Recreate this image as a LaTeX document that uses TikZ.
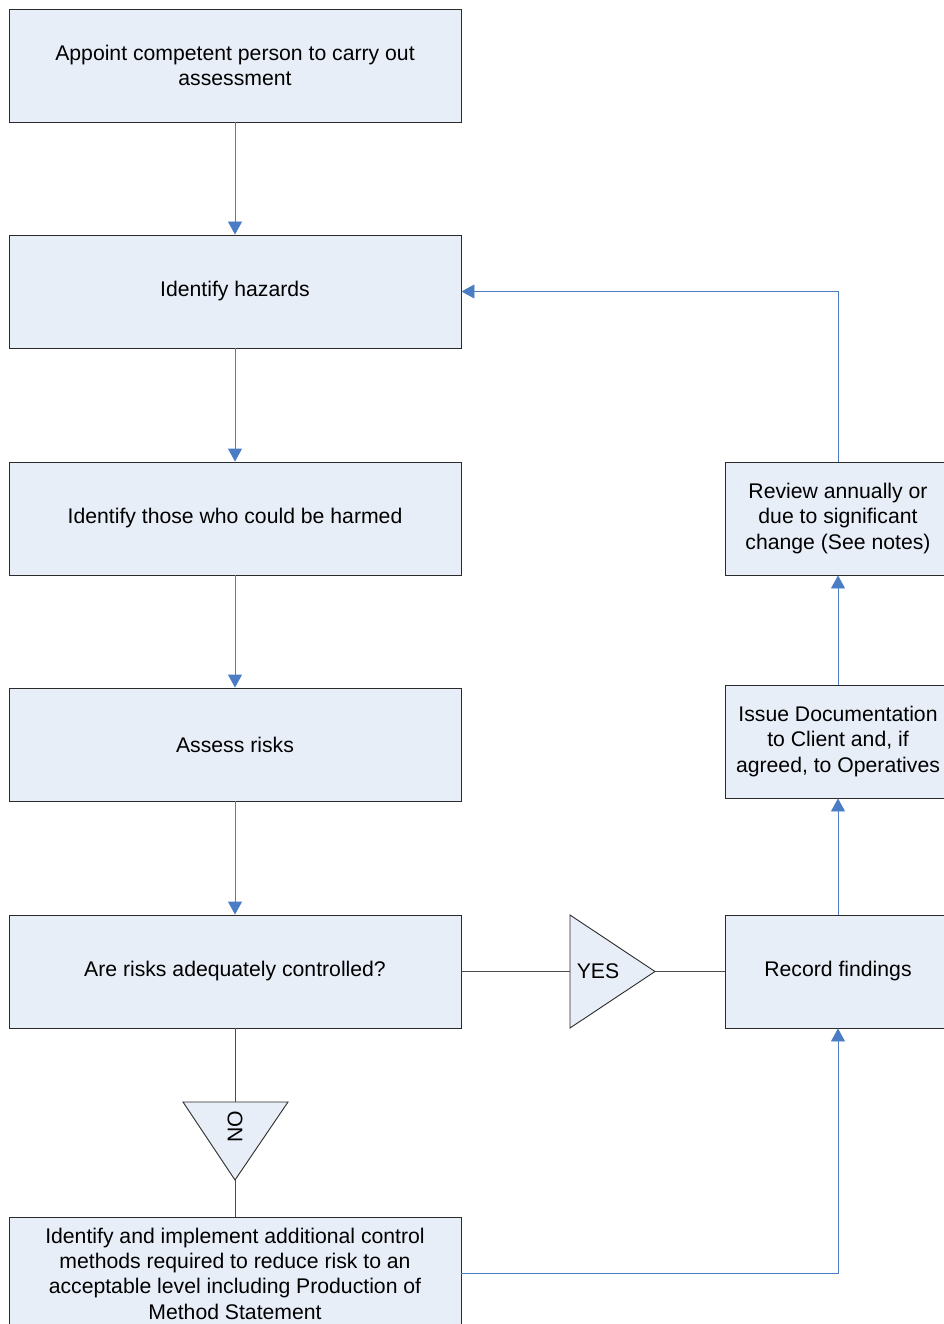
\documentclass[tikz,border=0pt]{standalone}
\usepackage{fontspec}
\setmainfont{Liberation Sans}
\usetikzlibrary{arrows.meta}
\definecolor{boxfill}{HTML}{E8EEF8}
\definecolor{flowblue}{HTML}{4A7DC4}
\definecolor{edgegray}{HTML}{2B2B2B}
\begin{document}
\begin{tikzpicture}[x=1pt, y=-1pt, line width=0.9pt,
  stepbox/.style={draw=edgegray, fill=boxfill, minimum width=452pt, minimum height=113pt,
    align=center, inner sep=0pt, font=\fontsize{21.2}{25.3}\selectfont},
  sidebox/.style={stepbox, minimum width=226pt},
  flow/.style={draw=flowblue, -{Triangle[length=13pt,width=14pt]}},
  link/.style={draw=edgegray!85},
  tag/.style={inner sep=0pt, font=\fontsize{21.2}{25.3}\selectfont}]
  \useasboundingbox (0,0) rectangle (944,1324);
  % main column
  \node[stepbox] (appoint) at (235,65.5) {Appoint competent person to carry out\\assessment};
  \node[stepbox] (hazards) at (235,291.5) {Identify hazards};
  \node[stepbox] (harmed) at (235,518.5) {Identify those who could be harmed};
  \node[stepbox] (assess) at (235,744.5) {Assess risks};
  \node[stepbox] (control) at (235,971.5) {Are risks adequately controlled?};
  \node[stepbox] (action) at (235,1273.5) {Identify and implement additional control\\methods required to reduce risk to an\\acceptable level including Production of\\Method Statement};
  % right column
  \node[sidebox] (review) at (838,518.5) {Review annually or\\due to significant\\change (See notes)};
  \node[sidebox] (issue) at (838,741.5) {Issue Documentation\\to Client and, if\\agreed, to Operatives};
  \node[sidebox] (record) at (838,971.5) {Record findings};
  % decision triangles
  \filldraw[draw=edgegray, fill=boxfill] (570,915) -- (655,971.5) -- (570,1028) -- cycle;
  \coordinate (yesin) at (570,971.5);
  \coordinate (yesout) at (655,971.5);
  \node[tag] (yes) at (598,971.5) {YES};
  \filldraw[draw=edgegray, fill=boxfill] (183,1102) -- (288,1102) -- (235,1180) -- cycle;
  \coordinate (noin) at (235,1102);
  \coordinate (noout) at (235,1180);
  \node[tag, rotate=90] (no) at (235,1127) {NO};
  % connectors
  \draw[flow] (appoint) -- (hazards);
  \draw[flow] (hazards) -- (harmed);
  \draw[flow] (harmed) -- (assess);
  \draw[flow] (assess) -- (control);
  \draw[link] (control.east) -- (yesin);
  \draw[link] (yesout) -- (record.west);
  \draw[link] (control.south) -- (noin);
  \draw[link] (noout) -- (action.north);
  \draw[flow] (action.east) -| (record.south);
  \draw[flow] (record) -- (issue);
  \draw[flow] (issue) -- (review);
  \draw[flow] (review.north) |- (hazards.east);
\end{tikzpicture}
\end{document}
